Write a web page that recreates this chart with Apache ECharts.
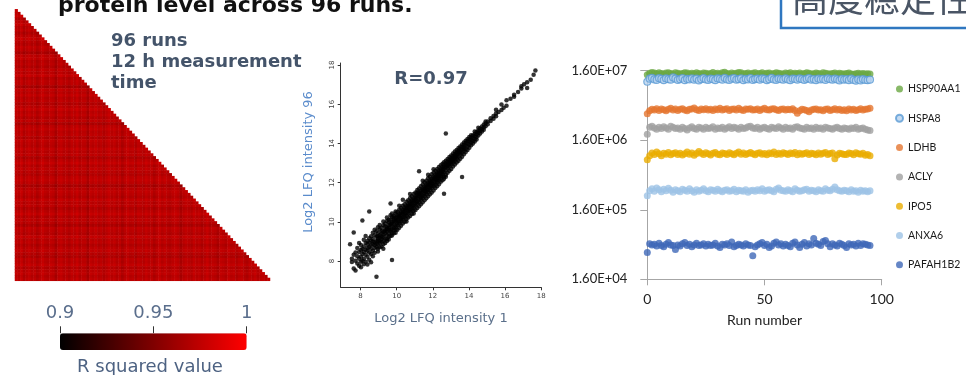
<!DOCTYPE html>
<html>
<head>
<meta charset="utf-8">
<script src="https://cdn.jsdelivr.net/npm/echarts@6/dist/echarts.min.js"></script>
<style>
  html, body { margin: 0; padding: 0; background: #ffffff; }
  #chart { width: 966px; height: 375px; }
</style>
</head>
<body>
<div id="chart"></div>
<script>
// ---------- Data ----------

// Per-run reproducibility score (R squared) for the 96 runs; the pairwise
// matrix below is the mean of the two runs' scores.
const runQuality = [
  0.977,0.971,0.981,0.965,0.973,0.979,0.969,0.975,0.963,0.973,0.981,0.971,
  0.967,0.977,0.973,0.959,0.975,0.979,0.969,0.973,0.965,0.977,0.971,0.981,
  0.967,0.975,0.973,0.957,0.977,0.971,0.979,0.969,0.975,0.965,0.973,0.981,
  0.971,0.977,0.967,0.975,0.961,0.973,0.979,0.971,0.975,0.965,0.977,0.973,
  0.969,0.979,0.971,0.975,0.963,0.973,0.981,0.969,0.977,0.971,0.967,0.975,
  0.979,0.973,0.959,0.971,0.977,0.973,0.967,0.979,0.971,0.975,0.965,0.973,
  0.981,0.969,0.975,0.971,0.961,0.977,0.973,0.967,0.979,0.971,0.975,0.965,
  0.973,0.977,0.969,0.963,0.975,0.971,0.979,0.967,0.973,0.977,0.969,0.975
];

// Log2 LFQ intensity: first value of each row is run 1, the rest are run 96 values at that x
const scatterRows = [
  [7.42, 8.85],
  [7.52, 8.12, 7.95],
  [7.62, 9.45, 8.32, 7.62],
  [7.72, 8.02, 8.44, 7.52],
  [7.82, 8.24, 7.88, 8.66],
  [7.92, 8.92, 8.12, 8.46, 7.76],
  [8.02, 8.56, 7.96, 8.22, 8.82, 7.68],
  [8.10, 10.07, 8.62, 8.36, 8.02],
  [8.18, 8.46, 8.74, 8.12, 9.08, 7.84],
  [8.28, 8.92, 8.32, 8.58, 7.96, 9.28],
  [8.38, 8.52, 8.86, 9.02, 8.22, 7.82, 8.66],
  [8.48, 10.53, 8.72, 8.44, 9.16, 8.94, 8.06],
  [8.58, 9.04, 8.62, 8.80, 9.26, 8.36, 7.94],
  [8.68, 9.12, 8.86, 9.44, 8.52, 9.00, 8.24],
  [8.78, 9.32, 8.96, 8.66, 9.60, 8.82, 8.42],
  [8.88, 7.20, 9.02, 9.24, 8.72, 9.52, 8.90],
  [8.96, 9.14, 9.42, 8.84, 9.04, 9.72, 8.62, 9.26, 8.48],
  [9.06, 9.32, 9.02, 9.62, 8.92, 9.20, 9.84, 8.70],
  [9.16, 9.42, 9.12, 9.70, 9.24, 8.74, 9.52, 8.98],
  [9.26, 9.50, 9.22, 9.82, 9.34, 9.04, 10.02, 8.62, 8.86],
  [9.36, 9.60, 9.40, 9.92, 9.14, 9.52, 8.92, 9.76],
  [9.46, 9.72, 9.50, 9.32, 10.04, 9.62, 9.12, 10.22, 9.02],
  [9.56, 9.82, 9.62, 10.10, 9.42, 9.70, 9.24, 9.96, 9.10],
  [9.66, 10.94, 9.84, 9.60, 10.12, 9.90, 9.50, 9.28, 10.34],
  [9.74, 8.05, 10.00, 9.78, 10.24, 9.62, 9.92, 9.42, 10.42, 9.30],
  [9.84, 10.10, 9.90, 10.30, 9.70, 10.02, 9.58, 9.42, 10.22],
  [9.94, 10.20, 10.00, 9.80, 10.42, 10.10, 9.72, 10.52, 9.44, 9.60],
  [10.04, 10.24, 10.10, 9.92, 10.50, 10.32, 9.82, 9.60, 10.04],
  [10.14, 10.40, 10.22, 10.02, 10.62, 10.30, 9.92, 10.82, 9.70],
  [10.24, 10.50, 10.32, 10.12, 10.70, 10.42, 10.02, 9.80, 10.20],
  [10.34, 10.60, 10.40, 10.22, 10.82, 10.50, 10.12, 11.12, 9.92],
  [10.44, 10.70, 10.52, 10.32, 10.90, 10.62, 10.22, 10.00, 10.42],
  [10.54, 10.80, 10.60, 10.42, 11.02, 10.70, 10.32, 10.02, 10.14],
  [10.64, 10.90, 10.72, 10.52, 11.10, 10.82, 10.42, 10.22, 10.62],
  [10.74, 11.00, 10.80, 10.62, 11.22, 10.90, 10.52, 11.42, 10.30],
  [10.84, 11.10, 10.92, 10.72, 11.30, 11.02, 10.62, 10.40, 10.82],
  [10.94, 11.20, 11.00, 10.82, 11.42, 11.10, 10.72, 10.42, 10.56],
  [11.04, 11.30, 11.12, 10.92, 11.50, 11.22, 10.82, 10.60, 11.04],
  [11.14, 11.40, 11.20, 11.02, 11.62, 11.30, 10.92, 10.70, 11.50],
  [11.24, 12.58, 11.50, 11.32, 11.12, 11.70, 11.42, 10.80, 11.00],
  [11.34, 11.60, 11.40, 11.22, 11.82, 11.50, 11.12, 10.90, 11.30],
  [11.44, 11.70, 11.52, 11.32, 11.90, 11.62, 11.22, 12.10, 11.00],
  [11.54, 11.80, 11.60, 11.42, 12.02, 11.70, 11.32, 11.10, 11.54],
  [11.64, 11.90, 11.72, 11.52, 12.10, 11.82, 11.42, 11.20, 11.64],
  [11.74, 12.00, 11.80, 11.62, 12.22, 11.90, 11.52, 12.40, 11.30],
  [11.84, 12.10, 11.92, 11.72, 12.30, 12.02, 11.62, 11.40, 11.84],
  [11.94, 12.20, 12.00, 11.82, 12.42, 12.10, 11.72, 11.50, 11.94],
  [12.04, 12.30, 12.12, 11.92, 12.50, 12.22, 11.82, 12.68, 11.60],
  [12.14, 12.40, 12.20, 12.02, 12.60, 12.30, 11.92, 11.72, 12.14],
  [12.24, 12.50, 12.32, 12.12, 12.70, 12.42, 12.02, 11.82, 12.24],
  [12.34, 12.60, 12.40, 12.22, 12.80, 12.50, 12.12, 11.92, 12.34],
  [12.44, 12.70, 12.52, 12.32, 12.88, 12.62, 12.22, 12.04, 12.44],
  [12.54, 12.80, 12.60, 12.42, 12.96, 12.70, 12.32, 12.12, 12.54],
  [12.62, 11.43, 12.88, 12.70, 12.52, 13.04, 12.78, 12.30, 12.20],
  [12.72, 14.50, 12.96, 12.80, 12.62, 13.12, 12.88, 12.40, 12.30],
  [12.82, 13.06, 12.90, 12.72, 13.20, 12.98, 12.50, 12.82],
  [12.92, 13.16, 13.00, 12.82, 13.30, 13.06, 12.60, 12.92],
  [13.02, 13.24, 13.10, 12.92, 13.38, 13.16, 12.70, 13.02],
  [13.12, 13.34, 13.20, 13.02, 13.48, 13.26, 12.82, 13.12],
  [13.22, 13.44, 13.30, 13.12, 13.58, 13.36, 12.92, 13.22],
  [13.32, 13.54, 13.40, 13.22, 13.66, 13.46, 13.02, 13.32],
  [13.42, 13.62, 13.50, 13.32, 13.76, 13.56, 13.12],
  [13.52, 13.72, 13.60, 13.42, 13.84, 13.22, 13.52],
  [13.62, 12.29, 13.82, 13.70, 13.52, 13.94, 13.32],
  [13.72, 13.92, 13.80, 13.62, 14.04, 13.44, 13.72],
  [13.82, 14.02, 13.90, 13.72, 14.14, 13.56],
  [13.92, 14.12, 14.00, 13.84, 14.22, 13.66],
  [14.02, 14.20, 14.10, 13.94, 14.32, 13.78],
  [14.12, 14.30, 14.18, 14.04, 14.42, 13.90],
  [14.22, 14.40, 14.28, 14.12, 14.00],
  [14.32, 14.48, 14.36, 14.22, 14.60, 14.10],
  [14.42, 14.58, 14.46, 14.32, 14.20],
  [14.52, 14.66, 14.54, 14.40, 14.80],
  [14.62, 14.76, 14.64, 14.50],
  [14.72, 14.86, 14.72, 14.60],
  [14.82, 14.96, 14.82, 14.70],
  [14.92, 15.02, 14.88, 15.12],
  [15.04, 15.12, 14.98],
  [15.20, 15.28, 15.14],
  [15.36, 15.40, 15.26],
  [15.50, 15.52, 15.38, 15.72],
  [15.64, 15.60],
  [15.80, 15.70, 15.98],
  [15.92, 15.82],
  [16.08, 15.92, 16.20],
  [16.30, 16.28],
  [16.50, 16.48, 16.38],
  [16.72, 16.62],
  [16.90, 16.80, 16.92],
  [17.05, 17.02],
  [17.22, 17.12, 16.82],
  [17.42, 17.24],
  [17.58, 17.50],
  [17.68, 17.72]
];

// Protein intensity per run (thousands), runs 0..95
const proteinNames = ['HSP90AA1', 'HSPA8', 'LDHB', 'ACLY', 'IPO5', 'ANXA6', 'PAFAH1B2'];

const hsp90aa1 = [
  14000,14700,15100,14800,14500,14900,14600,14300,14800,15000,14600,14400,
  14900,14700,14300,14600,15000,14800,14400,14700,14500,14900,14600,14300,
  14800,14700,14400,14600,15100,14500,14700,14300,14900,15200,14600,14400,
  14800,14500,14700,15100,14900,14400,14600,14800,14300,14700,15000,14500,
  14600,14900,14400,14700,14800,14300,14600,15000,14700,14500,14400,14800,
  14600,14900,14300,14700,14500,14800,14400,14600,15000,14700,14300,14500,
  14800,14600,14400,14900,14700,14500,14300,14600,14800,14400,14700,14500,
  14300,14600,14800,14400,14200,14500,14700,14300,14600,14400,14500,14300
];
const hspa8 = [
  11100,12300,12600,12000,11800,12500,12200,11700,12400,12100,11900,12800,
  12300,11800,12100,12500,11700,12200,12000,12400,11900,12300,11600,12100,
  12500,12000,11800,12300,12100,11700,12400,12200,11900,12600,12000,11800,
  12300,12500,11900,12100,12400,11700,12200,12000,12500,11800,12100,12300,
  11900,12400,12200,11700,12100,12600,12000,11800,12300,12100,11900,12400,
  12000,11700,12300,12200,11900,12400,12100,11800,12200,12500,11900,12100,
  11700,12300,12000,12200,11800,12400,12100,11900,12300,12000,11600,12200,
  11900,12100,11700,12300,11800,11500,12000,11600,12100,11800,11700,11900
];
const ldhb = [
  3850,4250,4450,4350,4550,4300,4500,4400,4250,4450,4600,4350,
  4500,4300,4450,4550,4350,4250,4450,4500,4650,4400,4300,4500,
  4400,4550,4350,4450,4300,4500,4400,4600,4350,4450,4550,4300,
  4450,4500,4350,4600,4400,4300,4500,4450,4550,4350,4400,4500,
  4300,4450,4600,4400,4350,4500,4550,4400,4300,4450,4500,4350,
  4450,4400,4550,4300,3900,4250,4450,4400,4300,4100,4350,4450,
  4500,4350,4400,4250,4450,4500,4300,4400,4550,4350,4450,4300,
  4400,4250,4500,4350,4450,4300,4400,4550,4350,4450,4500,4600
];
const acly = [
  1950,2450,2550,2400,2300,2450,2350,2500,2400,2300,2550,2450,
  2350,2400,2300,2450,2350,2250,2400,2500,2350,2300,2450,2400,
  2300,2450,2350,2400,2500,2300,2400,2350,2450,2300,2400,2500,
  2350,2450,2400,2300,2450,2350,2400,2500,2550,2400,2350,2450,
  2300,2400,2450,2350,2300,2450,2400,2350,2500,2400,2300,2450,
  2350,2400,2300,2450,2500,2400,2350,2300,2450,2350,2400,2300,
  2450,2350,2400,2300,2450,2400,2350,2300,2400,2450,2350,2300,
  2400,2350,2300,2400,2350,2450,2300,2350,2400,2300,2250,2200
];
const ipo5 = [
  840,960,1050,1000,1080,1020,960,1040,1010,1070,990,1030,
  1060,1000,1040,980,1020,1080,1010,1050,970,1030,1100,1040,
  1000,1060,1020,980,1040,1070,1010,990,1050,1030,1000,1060,
  1020,990,1040,1080,1010,1050,1000,1030,1070,1020,990,1040,
  1060,1010,1030,990,1050,1020,1080,1000,1040,1010,1060,1030,
  1000,1050,1020,1070,990,1040,1010,1030,1060,1000,1040,1020,
  990,1050,1010,1040,1070,1000,1030,1050,870,980,1040,1020,
  1000,1000,1050,1030,990,1060,1020,1010,1040,970,1000,960
];
const anxa6 = [
  255,300,320,295,330,310,290,315,300,325,305,285,
  310,300,290,315,305,295,320,300,285,310,295,305,
  320,300,290,310,305,295,315,300,290,305,310,295,
  300,315,290,305,300,295,310,285,300,305,295,310,
  300,320,295,305,310,300,290,315,330,305,300,295,
  310,300,290,320,305,295,300,310,315,295,305,300,
  290,310,300,295,320,305,300,315,340,310,300,295,
  305,300,290,310,295,300,285,305,295,300,290,300
];
const pafah1b2 = [
  39,52,50,51,48,53,49,47,51,54,50,49,
  43,50,48,52,54,49,51,47,50,53,49,50,
  52,48,51,49,50,53,48,46,51,50,52,49,
  55,47,49,51,50,48,52,50,49,35,47,50,
  52,54,49,51,46,48,53,55,50,52,48,51,
  49,47,53,55,50,46,51,54,48,52,50,62,
  53,51,49,56,58,52,47,52,50,48,53,51,
  49,46,52,50,51,48,53,49,52,51,50,49
];

// ---------- Derived tables ----------
const runCount = runQuality.length;
const runLabels = runQuality.map((_, i) => String(i + 1));
const heatCells = [];
for (let i = 0; i < runCount; i++) {
  for (let j = 0; j <= i; j++) {
    heatCells.push([j, i, +((runQuality[i] + runQuality[j]) / 2).toFixed(4)]);
  }
}
const scatterPoints = [];
scatterRows.forEach(row => {
  for (let k = 1; k < row.length; k++) scatterPoints.push([row[0], row[k]]);
});

const proteinValues = [hsp90aa1, hspa8, ldhb, acly, ipo5, anxa6, pafah1b2];
// plotted as log10(intensity / 1.6) so the 1.60E+0n ticks land on whole numbers
const toDecade = k => Math.log10(k * 1000 / 1.6);

const proteinStyles = {
  HSP90AA1: { color: '#6aa842' },
  HSPA8:    { color: '#b7d2ef', borderColor: '#5b9bd5', borderWidth: 1.2 },
  LDHB:     { color: '#e5762f' },
  ACLY:     { color: '#a0a0a0' },
  IPO5:     { color: '#eaad00' },
  ANXA6:    { color: '#9dc3e6' },
  PAFAH1B2: { color: '#3f68b8' }
};

const slate = '#44546a';
const axisGray = '#a6a6a6';

const runSeries = proteinNames.map((name, s) => ({
  name: name,
  type: 'scatter',
  xAxisIndex: 2,
  yAxisIndex: 2,
  symbol: 'circle',
  symbolSize: 7,
  itemStyle: proteinStyles[name],
  emphasis: { disabled: true },
  data: proteinValues[s].map((v, r) => [r, toDecade(v)])
}));

// ---------- Chart ----------
const chart = echarts.init(document.getElementById('chart'), null, { renderer: 'canvas' });

chart.setOption({
  animation: false,
  backgroundColor: '#ffffff',
  textStyle: { fontFamily: 'DejaVu Sans' },
  grid: [
    { left: 15, top: 9.3, width: 255, height: 271.5 },
    { left: 340.7, top: 63, width: 200.5, height: 224.3 },
    { left: 647.3, top: 70.7, width: 234.4, height: 208.6 },
    // tick strip sitting on top of the colour bar
    { left: 60, top: 326.3, width: 186.7, height: 7 }
  ],
  xAxis: [
    { gridIndex: 0, type: 'category', data: runLabels, show: false },
    {
      gridIndex: 1, type: 'value', min: 6.9, max: 18,
      axisLine: { lineStyle: { color: '#333', width: 1 } },
      axisTick: { customValues: [8, 10, 12, 14, 16, 18], length: 3, lineStyle: { color: '#333' } },
      axisLabel: { customValues: [8, 10, 12, 14, 16, 18], fontSize: 7, margin: 5, color: '#444' },
      splitLine: { show: false },
      name: 'Log2 LFQ intensity 1', nameLocation: 'middle', nameGap: 25,
      nameTextStyle: { fontSize: 13, color: '#5a6f8a', fontFamily: 'DejaVu Sans' }
    },
    {
      gridIndex: 2, type: 'value', min: 0, max: 100, interval: 50,
      axisLine: { lineStyle: { color: axisGray } },
      axisTick: { length: 6, lineStyle: { color: axisGray } },
      axisLabel: { fontSize: 14, color: '#222', fontFamily: 'Lato', margin: 13 },
      splitLine: { show: false },
      name: 'Run number', nameLocation: 'middle', nameGap: 34,
      nameTextStyle: { fontSize: 14, color: '#222', fontFamily: 'Lato' }
    },
    {
      gridIndex: 3, type: 'value', position: 'top', min: 0.9, max: 1, interval: 0.05,
      axisLine: { show: false, onZero: false },
      axisTick: { show: false },
      axisLabel: { margin: 4, fontSize: 18, color: '#5a6e8c', fontFamily: 'DejaVu Sans',
        showMinLabel: true, showMaxLabel: true,
        formatter: v => String(+v.toFixed(2)) },
      splitLine: { show: true, lineStyle: { color: '#333', width: 1 } }
    }
  ],
  yAxis: [
    { gridIndex: 0, type: 'category', data: runLabels, inverse: true, show: false },
    {
      gridIndex: 1, type: 'value', min: 6.66, max: 18.1,
      axisLine: { show: true, lineStyle: { color: '#333', width: 1 } },
      axisTick: { show: true, customValues: [8, 10, 12, 14, 16, 18], length: 3, lineStyle: { color: '#333' } },
      axisLabel: { customValues: [8, 10, 12, 14, 16, 18], fontSize: 7, margin: 5, color: '#444', rotate: 90 },
      splitLine: { show: false }
    },
    {
      gridIndex: 2, type: 'value', min: 4, max: 7, interval: 1,
      axisLine: { show: true, lineStyle: { color: axisGray } },
      axisTick: { show: true, length: 7, lineStyle: { color: axisGray } },
      axisLabel: { fontSize: 13, color: '#222', fontFamily: 'Lato', margin: 20,
        formatter: v => '1.60E+0' + v },
      splitLine: { show: false }
    },
    { gridIndex: 3, type: 'value', min: 0, max: 1, show: false }
  ],
  visualMap: {
    type: 'continuous',
    seriesIndex: 0,
    min: 0.9, max: 1,
    inRange: { color: ['#000000', '#ff0000'] },
    orient: 'horizontal',
    left: 60, top: 333.3,
    itemWidth: 16.7, itemHeight: 186.7,
    padding: 0,
    calculable: false,
    hoverLink: false,
    text: null
  },
  legend: {
    data: proteinNames,
    orient: 'vertical',
    left: 895, top: 82,
    padding: 0,
    itemWidth: 7, itemHeight: 7, itemGap: 15.3,
    icon: 'circle',
    selectedMode: false,
    textStyle: { fontSize: 10.5, color: '#1a1a1a', fontFamily: 'Lato', lineHeight: 14 }
  },
  graphic: [
    {
      type: 'text', x: 58, y: 6.5,
      style: { text: 'protein level across 96 runs.', font: 'bold 22px "DejaVu Sans"', fill: '#111',
        textAlign: 'left', textVerticalAlign: 'middle' }
    },
    {
      type: 'rect', shape: { x: 781, y: -20, width: 300, height: 48 },
      style: { fill: '#ffffff', stroke: '#2f77c0', lineWidth: 2.5 }
    },
    {
      type: 'text', x: 792, y: -2,
      style: { text: '高度稳定性', font: '36px "Noto Sans CJK SC"', fill: '#4a5565',
        textAlign: 'left', textVerticalAlign: 'middle' }
    },
    {
      type: 'text', x: 111, y: 30.8,
      style: { text: '96 runs\n12 h measurement\ntime', font: 'bold 18px "DejaVu Sans"', fill: slate,
        lineHeight: 21, textAlign: 'left', textVerticalAlign: 'top' }
    },
    {
      type: 'text', x: 431, y: 78.9,
      style: { text: 'R=0.97', font: 'bold 18px "DejaVu Sans"', fill: slate,
        textAlign: 'center', textVerticalAlign: 'middle' }
    },
    {
      type: 'text', x: 309, y: 162, rotation: Math.PI / 2,
      style: { text: 'Log2 LFQ intensity 96', font: '13px "DejaVu Sans"', fill: '#5b8ccc',
        textAlign: 'center', textVerticalAlign: 'middle' }
    },
    {
      type: 'text', x: 150, y: 366.9,
      style: { text: 'R squared value', font: '18px "DejaVu Sans"', fill: '#4d6282',
        textAlign: 'center', textVerticalAlign: 'middle' }
    }
  ],
  series: [
    {
      type: 'heatmap',
      xAxisIndex: 0, yAxisIndex: 0,
      data: heatCells,
      emphasis: { disabled: true },
      itemStyle: { borderWidth: 0 }
    },
    {
      type: 'scatter',
      xAxisIndex: 1, yAxisIndex: 1,
      symbolSize: 4.5,
      itemStyle: { color: '#000000' },
      emphasis: { disabled: true },
      data: scatterPoints
    }
  ].concat(runSeries)
});
</script>
</body>
</html>
